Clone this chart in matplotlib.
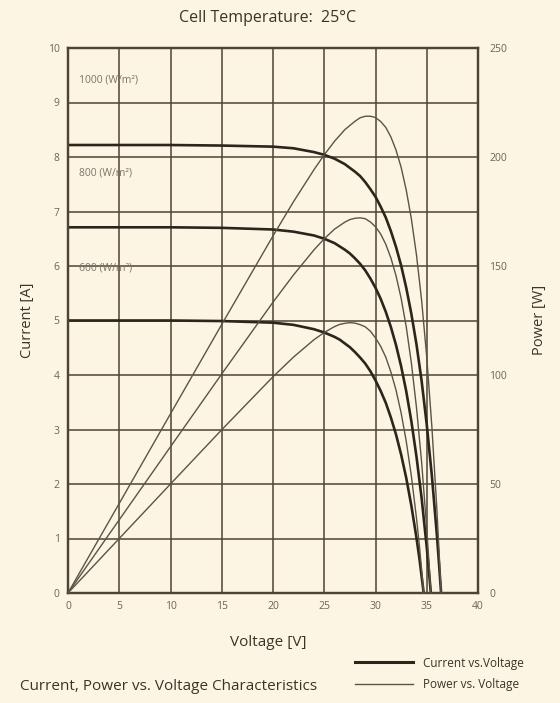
import matplotlib
matplotlib.use("Agg")
import matplotlib.pyplot as plt
from matplotlib.lines import Line2D

# ---------------- data ----------------
v_1000 = [0, 5, 10, 15, 20, 22, 24, 25, 26, 27, 28, 28.5, 29, 29.5, 30, 30.5, 31, 31.5, 32, 32.5,
          33, 33.5, 34, 34.5, 35, 35.5, 36, 36.2, 36.4]
i_1000 = [8.22, 8.22, 8.22, 8.21, 8.19, 8.16, 8.09, 8.04, 7.97, 7.87, 7.73, 7.65, 7.54, 7.41, 7.27, 7.09,
          6.89, 6.64, 6.35, 6.01, 5.60, 5.12, 4.56, 3.89, 3.09, 2.15, 1.04, 0.53, 0.0]
p_1000 = [0, 41.1, 82.2, 123.2, 163.8, 179.5, 194.2, 201.0, 207.2, 212.5, 216.4, 218.0, 218.7, 218.7, 218.1,
          216.3, 213.6, 209.2, 203.2, 195.3, 184.8, 171.6, 155.0, 134.2, 108.2, 76.3, 37.4, 19.2, 0]

v_800 = [0, 5, 10, 15, 20, 22, 24, 25, 26, 27, 27.5, 28, 28.5, 29, 29.5, 30, 30.5, 31, 31.5, 32, 32.5,
         33, 33.5, 34, 34.5, 35, 35.2, 35.4]
i_800 = [6.71, 6.71, 6.71, 6.70, 6.67, 6.63, 6.56, 6.50, 6.42, 6.30, 6.23, 6.14, 6.04, 5.92, 5.77, 5.60,
         5.40, 5.16, 4.88, 4.55, 4.16, 3.70, 3.15, 2.50, 1.74, 0.84, 0.43, 0.0]
p_800 = [0, 33.6, 67.1, 100.5, 133.4, 145.9, 157.4, 162.5, 166.9, 170.1, 171.3, 171.9, 172.1, 171.7, 170.2,
         168.0, 164.7, 160.0, 153.7, 145.6, 135.2, 122.1, 105.5, 85.0, 60.0, 29.4, 15.2, 0]

v_600 = [0, 5, 10, 15, 20, 22, 24, 25, 26, 26.5, 27, 27.5, 28, 28.5, 29, 29.5, 30, 30.5, 31, 31.5, 32,
         32.5, 33, 33.5, 34, 34.3, 34.7]
i_600 = [5.00, 5.00, 5.00, 4.99, 4.96, 4.92, 4.84, 4.78, 4.70, 4.65, 4.58, 4.51, 4.42, 4.32, 4.21, 4.07,
         3.90, 3.71, 3.49, 3.22, 2.91, 2.54, 2.11, 1.60, 1.01, 0.61, 0.0]
p_600 = [0, 25.0, 50.0, 74.9, 99.2, 108.2, 116.2, 119.5, 122.2, 123.2, 123.7, 124.0, 123.8, 123.1, 122.1,
         120.1, 117.0, 113.2, 108.2, 101.4, 93.1, 82.6, 69.6, 53.6, 34.3, 20.9, 0]

irradiance_labels = ["1000 (W/m²)", "800 (W/m²)", "600 (W/m²)"]
irradiance_label_y = [9.41, 7.71, 5.96]

x_ticks = [0, 5, 10, 15, 20, 25, 30, 35, 40]
i_ticks = [0, 1, 2, 3, 4, 5, 6, 7, 8, 9, 10]
p_ticks = [0, 50, 100, 150, 200, 250]

# ---------------- style ----------------
BG = "#fdf5e4"
GRID = "#4d4434"
CUR = "#2b251b"
POW = "#5a5448"
TXT = "#3a3428"
TICK = "#6a6458"

plt.rcParams["font.family"] = ["Open Sans", "DejaVu Sans"]

fig = plt.figure(figsize=(5.6, 7.03), dpi=100, facecolor=BG)
ax = fig.add_axes([68 / 560, 1 - 593 / 703, 410 / 560, 545 / 703])
ax.set_facecolor(BG)
ax2 = ax.twinx()

ax.set_xlim(0, 40)
ax.set_ylim(0, 10)
ax2.set_ylim(0, 250)

ax.set_xticks(x_ticks)
ax.set_yticks(i_ticks)
ax2.set_yticks(p_ticks)
ax.set_xticklabels([str(t) for t in x_ticks])
ax.set_yticklabels([str(t) for t in i_ticks])
ax2.set_yticklabels([str(t) for t in p_ticks])

ax.grid(True, color=GRID, lw=1.3, alpha=0.85)
ax.set_axisbelow(True)
for a in (ax, ax2):
    for s in a.spines.values():
        s.set_color(GRID)
        s.set_linewidth(1.6)
ax.tick_params(axis="both", length=0, labelsize=7.5, labelcolor=TICK, pad=6)
ax2.tick_params(axis="y", length=0, labelsize=7.5, labelcolor=TICK, pad=8)

# current curves (thick)
for v, i in ((v_1000, i_1000), (v_800, i_800), (v_600, i_600)):
    ax.plot(v, i, color=CUR, lw=1.9, solid_capstyle="round", solid_joinstyle="round", zorder=3)
# power curves (thin)
for v, p in ((v_1000, p_1000), (v_800, p_800), (v_600, p_600)):
    ax2.plot(v, p, color=POW, lw=1.0, solid_joinstyle="round", zorder=3)

for lab, yy in zip(irradiance_labels, irradiance_label_y):
    ax.text(1.1, yy, lab, fontsize=7.5, color="#7a7468", va="center", ha="left")

# texts
fig.text(268 / 560, 1 - 18 / 703, "Cell Temperature:  25°C", ha="center", va="center",
         fontsize=11.5, color=TXT)
fig.text(28 / 560, 1 - 320 / 703, "Current [A]", ha="center", va="center",
         rotation=90, fontsize=10.5, color=TXT)
fig.text(540 / 560, 1 - 320 / 703, "Power [W]", ha="center", va="center",
         rotation=90, fontsize=10.5, color=TXT)
fig.text(268 / 560, 1 - 643 / 703, "Voltage [V]", ha="center", va="center",
         fontsize=11, color=TXT)
fig.text(20 / 560, 1 - 687 / 703, "Current, Power vs. Voltage Characteristics",
         ha="left", va="center", fontsize=11, color=TXT)

handles = [Line2D([], [], color=CUR, lw=2.2), Line2D([], [], color=POW, lw=1.0)]
leg = fig.legend(handles, ["Current vs.Voltage", "Power vs. Voltage"],
                 loc="center left", bbox_to_anchor=(355 / 560, 1 - 674 / 703),
                 frameon=False, fontsize=8.5, handlelength=4.9, handletextpad=0.85,
                 labelspacing=0.75, borderpad=0, borderaxespad=0)
for t in leg.get_texts():
    t.set_color(TXT)

fig.savefig("out.png", dpi=100, facecolor=BG)
